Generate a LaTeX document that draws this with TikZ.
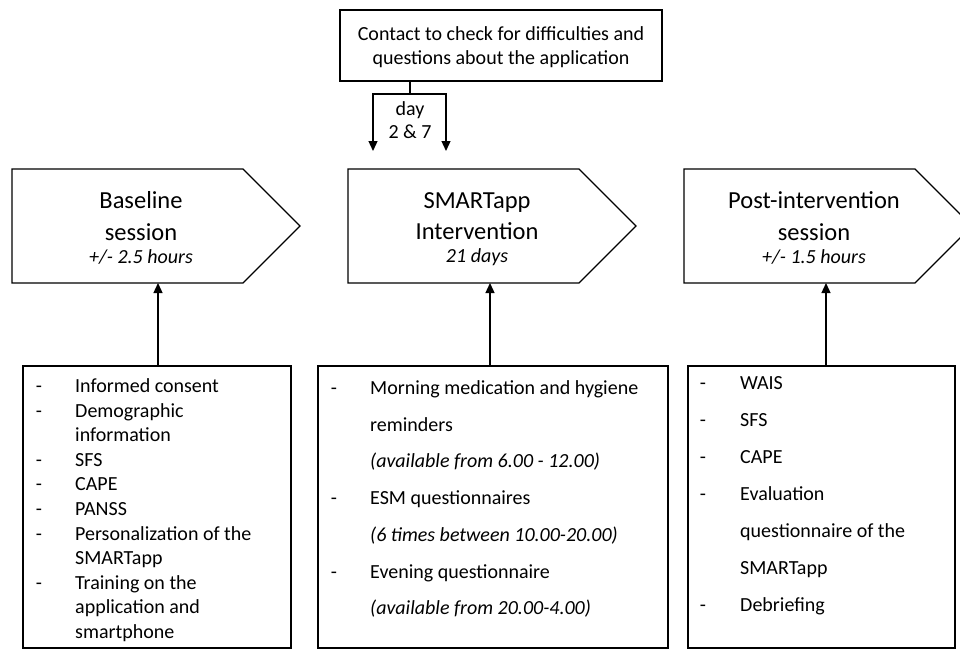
\documentclass[tikz,border=0pt]{standalone}
\usepackage{fontspec}
\setmainfont{Carlito}
\usetikzlibrary{arrows.meta}
\tikzset{
  ln/.style={line width=1.3pt, draw=black},
  arr/.style={ln, -{Triangle[length=10pt,width=9pt]}},
  boxx/.style={ln, rectangle, inner sep=0pt},
  tx/.style={inner sep=0pt, anchor=base west, font=\fontsize{20}{24}\selectfont},
  txi/.style={tx, font=\fontsize{20}{24}\selectfont\itshape},
  ttl/.style={inner sep=0pt, anchor=base, font=\fontsize{24.5}{29}\selectfont},
  sub/.style={inner sep=0pt, anchor=base, font=\fontsize{20}{24}\selectfont\itshape},
  ctr/.style={inner sep=0pt, anchor=base, font=\fontsize{20}{24}\selectfont},
  dsh/.style={inner sep=0pt, anchor=base, font=\fontsize{20}{24}\selectfont}
}
\begin{document}
\begin{tikzpicture}[x=1pt,y=-1pt]
\clip (0,0) rectangle (960,651);
\fill[white] (0,0) rectangle (960,651);

% top box
\node[boxx, minimum width=322pt, minimum height=71pt] (top) at (501,45.5) {};
\node[ctr] (top1) at (501,40) {Contact to check for difficulties and};
\node[ctr] (top2) at (501,64) {questions about the application};

% bracket with arrows
\coordinate (j) at (410,94);
\coordinate (jl) at (373,94);
\coordinate (jr) at (446,94);
\coordinate (al) at (373,151);
\coordinate (ar) at (446,151);
\draw[ln] (top.south -| j) -- (j);
\draw[arr] (j) -- (jl) -- (al);
\draw[arr] (j) -- (jr) -- (ar);
\node[ctr] (day1) at (410,115) {day};
\node[ctr] (day2) at (410,138) {2 \& 7};

% pentagons
\draw[ln, line join=miter] (12,169) -- (243,169) -- (300,226) -- (243,283) -- (12,283) -- cycle;
\draw[ln, line join=miter] (348,169) -- (579,169) -- (636,226) -- (579,283) -- (348,283) -- cycle;
\draw[ln, line join=miter] (684,169) -- (915,169) -- (972,226) -- (915,283) -- (684,283) -- cycle;
\coordinate (p1) at (158,283);
\coordinate (p2) at (490,283);
\coordinate (p3) at (826,283);

\node[ttl] (t1a) at (141,208) {Baseline};
\node[ttl] (t1b) at (141,240) {session};
\node[sub] (t1c) at (141,263) {+/- 2.5 hours};

\node[ttl] (t2a) at (477,208) {SMARTapp};
\node[ttl] (t2b) at (477,239) {Intervention};
\node[sub] (t2c) at (477,262) {21 days};

\node[ttl] (t3a) at (814,208) {Post-intervention};
\node[ttl] (t3b) at (814,240) {session};
\node[sub] (t3c) at (814,263) {+/- 1.5 hours};

% bottom boxes
\node[boxx, minimum width=268pt, minimum height=282pt] (b1) at (157,507) {};
\node[boxx, minimum width=350pt, minimum height=282pt] (b2) at (493,507) {};
\node[boxx, minimum width=267pt, minimum height=282pt] (b3) at (821.5,507) {};

\draw[arr] (b1.north -| p1) -- (p1);
\draw[arr] (b2.north -| p2) -- (p2);
\draw[arr] (b3.north -| p3) -- (p3);

% box 1 list
\foreach \k/\d/\t in {0/-/Informed consent, 1/-/Demographic, 2//information, 3/-/SFS, 4/-/CAPE, 5/-/PANSS, 6/-/Personalization of the, 7//SMARTapp, 8/-/Training on the, 9//application and, 10//smartphone}{
  \node[dsh] (l1d\k) at (39,392.5+24.6*\k) {\d};
  \node[tx] (l1t\k) at (75,392.5+24.6*\k) {\t};
}

% box 2 list
\node[dsh] (l2d0) at (334,394.5) {-};
\node[tx] (l2t0) at (370,394.5) {Morning medication and hygiene};
\node[tx] (l2t1) at (370,431.2) {reminders};
\node[txi] (l2t2) at (370,467.9) {(available from 6.00 - 12.00)};
\node[dsh] (l2d3) at (334,504.6) {-};
\node[tx] (l2t3) at (370,504.6) {ESM questionnaires};
\node[txi] (l2t4) at (370,541.3) {(6 times between 10.00-20.00)};
\node[dsh] (l2d5) at (334,578) {-};
\node[tx] (l2t5) at (370,578) {Evening questionnaire};
\node[txi] (l2t6) at (370,614.7) {(available from 20.00-4.00)};

% box 3 list
\foreach \k/\d/\t in {0/-/WAIS, 1/-/SFS, 2/-/CAPE, 3/-/Evaluation, 4//questionnaire of the, 5//SMARTapp, 6/-/Debriefing}{
  \node[dsh] (l3d\k) at (703,389.5+37*\k) {\d};
  \node[tx] (l3t\k) at (740,389.5+37*\k) {\t};
}
\end{tikzpicture}
\end{document}
